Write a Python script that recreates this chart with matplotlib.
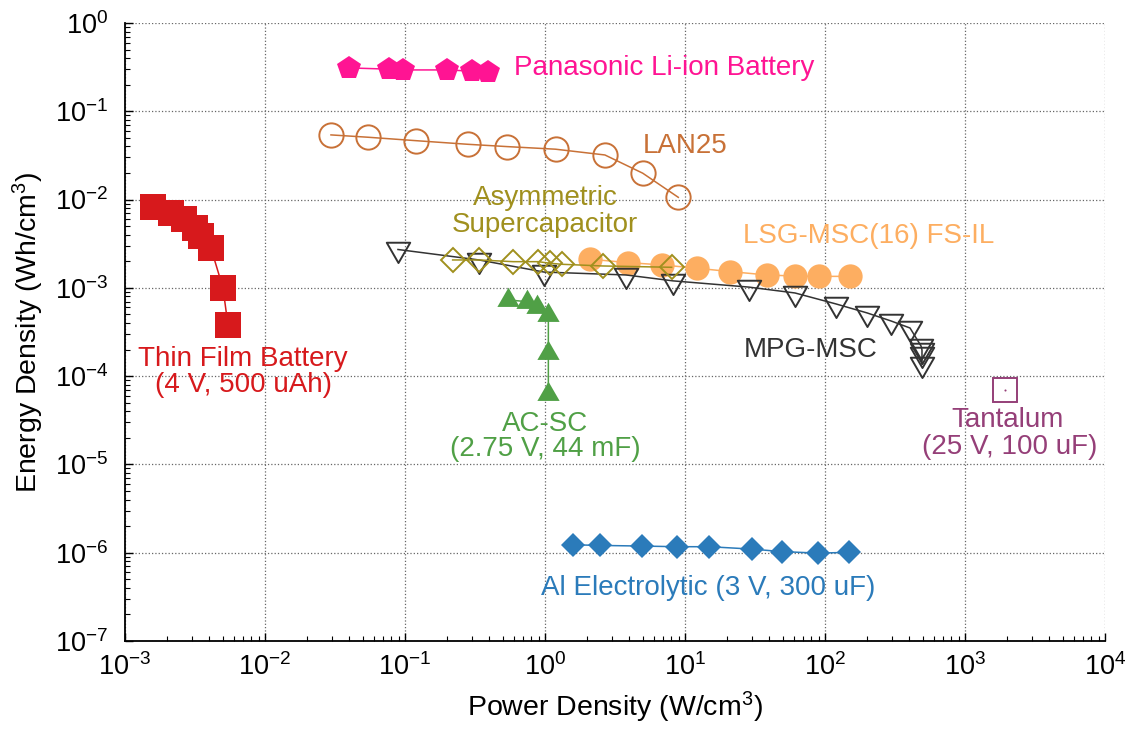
import matplotlib
matplotlib.use("Agg")
import matplotlib.pyplot as plt
from matplotlib.path import Path
import numpy as np

plt.rcParams['font.family'] = ['Liberation Sans', 'DejaVu Sans']
plt.rcParams['mathtext.default'] = 'regular'
plt.rcParams['axes.unicode_minus'] = False

# data (power density W/cm3, energy density Wh/cm3)
thin_film_p = [1.58e-3, 2.13e-3, 2.64e-3, 3.16e-3, 3.49e-3, 4.11e-3, 5.01e-3, 5.44e-3]
thin_film_e = [8.24e-3, 7.05e-3, 6.03e-3, 4.78e-3, 3.88e-3, 2.83e-3, 1.0e-3, 3.8e-4]

panasonic_p = [0.0398, 0.0769, 0.0968, 0.2, 0.301, 0.392]
panasonic_e = [0.31, 0.30, 0.294, 0.294, 0.285, 0.279]

lan25_p = [0.0296, 0.0547, 0.119, 0.28, 0.538, 1.19, 2.68, 4.99, 8.96]
lan25_e = [0.054, 0.0508, 0.0465, 0.0423, 0.0398, 0.0372, 0.032, 0.0199, 0.0106]

asym_p = [0.219, 0.338, 0.594, 0.895, 1.087, 1.316, 2.58, 8.03]
asym_e = [2.07e-3, 2.07e-3, 1.98e-3, 1.98e-3, 1.90e-3, 1.85e-3, 1.77e-3, 1.71e-3]

lsg_p = [2.1, 3.94, 6.82, 12.1, 20.9, 38.4, 61.1, 91.1, 151]
lsg_e = [2.11e-3, 1.93e-3, 1.82e-3, 1.67e-3, 1.53e-3, 1.40e-3, 1.36e-3, 1.35e-3, 1.35e-3]

mpg_p = [0.0891, 0.338, 0.984, 3.79, 8.21, 28.6, 61.1, 120, 200, 296, 405, 485, 493, 493, 493]
mpg_e = [2.72e-3, 2.07e-3, 1.51e-3, 1.40e-3, 1.20e-3, 1.02e-3, 8.75e-4, 6.57e-4,
         5.20e-4, 4.22e-4, 3.51e-4, 2.20e-4, 1.98e-4, 1.78e-4, 1.37e-4]

acsc_p = [0.547, 0.74, 0.881, 1.057, 1.057, 1.057]
acsc_e = [7.3e-4, 6.98e-4, 6.12e-4, 4.93e-4, 1.82e-4, 6.24e-5]

al_p = [1.59, 2.47, 4.91, 8.73, 14.9, 29.9, 49, 89.6, 149]
al_e = [1.23e-6, 1.21e-6, 1.19e-6, 1.17e-6, 1.17e-6, 1.10e-6, 1.03e-6, 0.99e-6, 1.01e-6]

tantalum_p = [1930]
tantalum_e = [6.98e-5]

x_decades = np.arange(-3, 5)
y_decades = np.arange(-7, 1)

c_red = '#d7191c'
c_pink = '#ff1493'
c_lan = '#c87137'
c_olive = '#a0901e'
c_lsg = '#fdae61'
c_mpg = '#333333'
c_green = '#50a046'
c_blue = '#2b7bba'
c_tant = '#953f78'

# equilateral triangles centred on their centroid (gnuplot style)
tri_down = Path([(0, -1), (-0.866, 0.5), (0.866, 0.5), (0, -1)], closed=True)
tri_up = Path([(0, 1), (-0.866, -0.5), (0.866, -0.5), (0, 1)], closed=True)

fig = plt.figure(figsize=(11.31, 7.30), dpi=100)
ax = fig.add_axes([0.1105, 0.1219, 0.8665, 0.8466])

lw = 1.1
ax.plot(thin_film_p, thin_film_e, color=c_red, lw=lw, marker='s', ms=18.5,
        mfc=c_red, mec=c_red, mew=0)
ax.plot(panasonic_p, panasonic_e, color=c_pink, lw=lw, marker='p', ms=17.5,
        mfc=c_pink, mec=c_pink, mew=0)
ax.plot(lan25_p, lan25_e, color=c_lan, lw=lw, marker='o', ms=17.5,
        mfc='none', mec=c_lan, mew=1.4)
ax.plot(lsg_p, lsg_e, color=c_lsg, lw=lw, marker='o', ms=17.5,
        mfc=c_lsg, mec=c_lsg, mew=0)
ax.plot(mpg_p, mpg_e, color=c_mpg, lw=lw, marker=tri_down, ms=19.5,
        mfc='none', mec=c_mpg, mew=1.4)
ax.plot(asym_p, asym_e, color=c_olive, lw=lw, marker='D', ms=12,
        mfc='none', mec=c_olive, mew=1.4)
ax.plot(acsc_p, acsc_e, color=c_green, lw=lw, marker=tri_up, ms=18.5,
        mfc=c_green, mec=c_green, mew=0)
ax.plot(al_p, al_e, color=c_blue, lw=lw, marker='D', ms=12.4,
        mfc=c_blue, mec=c_blue, mew=0)
ax.plot(tantalum_p, tantalum_e, ls='none', marker='s', ms=17.5,
        mfc='none', mec=c_tant, mew=1.4)
ax.plot(tantalum_p, tantalum_e, ls='none', marker='o', ms=1.5,
        mfc=c_tant, mec=c_tant, mew=0)

ax.set_xscale('log')
ax.set_yscale('log')
ax.set_xlim(1e-3, 1e4)
ax.set_ylim(1e-7, 1e0)

fs = 20
# labels: (x, y, text, colour, ha)
labels = [
    (6.97e-3, 1.55e-4, 'Thin Film Battery', c_red, 'center'),
    (6.97e-3, 7.9e-5, '(4 V, 500 uAh)', c_red, 'center'),
    (0.6, 0.31, 'Panasonic Li-ion Battery', c_pink, 'left'),
    (5.0, 0.0405, 'LAN25', c_lan, 'left'),
    (1.0, 1.03e-2, 'Asymmetric', c_olive, 'center'),
    (1.0, 5.1e-3, 'Supercapacitor', c_olive, 'center'),
    (26, 3.87e-3, 'LSG-MSC(16) FS-IL', c_lsg, 'left'),
    (26.4, 1.98e-4, 'MPG-MSC', c_mpg, 'left'),
    (1.0, 2.9e-5, 'AC-SC', c_green, 'center'),
    (1.0, 1.49e-5, '(2.75 V, 44 mF)', c_green, 'center'),
    (2000, 3.15e-5, 'Tantalum', c_tant, 'center'),
    (2095, 1.56e-5, '(25 V, 100 uF)', c_tant, 'center'),
    (0.936, 4.0e-7, 'Al Electrolytic (3 V, 300 uF)', c_blue, 'left'),
]
for x, y, s, c, ha in labels:
    ax.text(x, y, s, color=c, fontsize=fs, ha=ha, va='center')

ax.set_xlabel('Power Density (W/cm$^{3}$)', fontsize=20.5, labelpad=6)
ax.set_ylabel('Energy Density (Wh/cm$^{3}$)', fontsize=20.5, labelpad=6)

ax.spines['top'].set_visible(False)
ax.spines['right'].set_visible(False)
ax.spines['left'].set_linewidth(1.3)
ax.spines['bottom'].set_linewidth(1.3)

ax.xaxis.set_major_locator(matplotlib.ticker.FixedLocator(10.0 ** x_decades))
ax.yaxis.set_major_locator(matplotlib.ticker.FixedLocator(10.0 ** y_decades))
ax.xaxis.set_minor_locator(matplotlib.ticker.LogLocator(base=10, subs=np.arange(2, 10), numticks=20))
ax.yaxis.set_minor_locator(matplotlib.ticker.LogLocator(base=10, subs=np.arange(2, 10), numticks=20))
ax.xaxis.set_major_formatter(matplotlib.ticker.LogFormatterSciNotation())
ax.yaxis.set_major_formatter(matplotlib.ticker.LogFormatterSciNotation())
ax.xaxis.set_minor_formatter(matplotlib.ticker.NullFormatter())
ax.yaxis.set_minor_formatter(matplotlib.ticker.NullFormatter())

ax.tick_params(which='major', direction='in', length=6, width=1.0, labelsize=19.5,
               top=False, right=False)
ax.tick_params(which='minor', direction='in', length=3.5, width=0.8,
               top=False, right=False)
ax.tick_params(axis='x', which='major', pad=9)
ax.tick_params(axis='y', which='major', pad=12)

ax.grid(True, which='major', ls=':', color='#666666', lw=0.9)
ax.set_axisbelow(True)

fig.savefig('out.png', dpi=100)
